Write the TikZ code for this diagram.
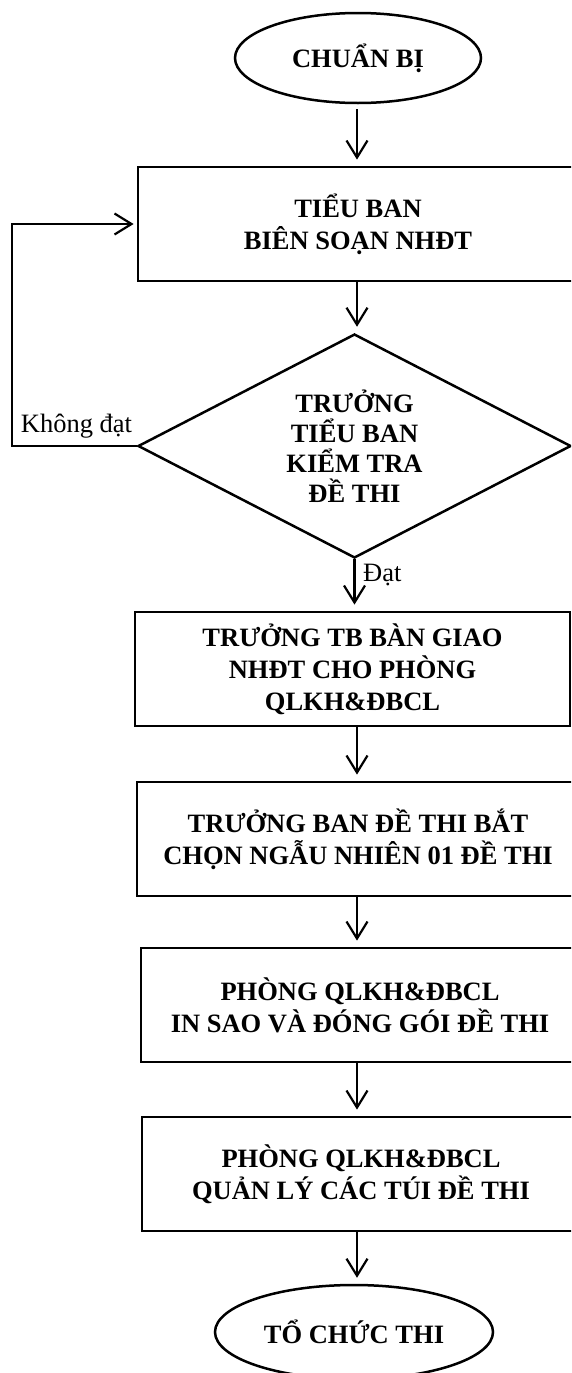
\documentclass[tikz,border=0pt]{standalone}
\usepackage{fontspec}
\setmainfont{Liberation Serif}
\usetikzlibrary{shapes.geometric,arrows.meta,calc}
\begin{document}
\begin{tikzpicture}[x=1pt,y=-1pt,
  txt/.style={font=\fontsize{26.5}{32}\selectfont},
  proc/.style={draw, line width=2.8pt, minimum height=114pt, inner sep=0pt, align=center, font=\bfseries\fontsize{26.5}{32}\selectfont},
  term/.style={draw, ellipse, line width=2.5pt, inner sep=0pt, font=\bfseries\fontsize{26.5}{32}\selectfont},
  dec/.style={draw, diamond, line width=2.5pt, inner sep=0pt, align=center, aspect=1.93, minimum width=433pt, minimum height=224pt, font=\bfseries\fontsize{26.5}{30}\selectfont},
  flow/.style={line width=2.2pt, -{Straight Barb[length=17pt,width=21pt]}, shorten >=6pt}
]
\useasboundingbox (0,0) rectangle (571,1373);
\clip (0,0) rectangle (571,1373);

\node[term, minimum width=246pt, minimum height=90pt] (start) at (358,58) {CHUẨN BỊ};
\node[proc, minimum width=440pt] (b1) at (358,224) {TIỂU BAN\\BIÊN SOẠN NHĐT};
\node[dec] (d) at (354.5,446) {TRƯỞNG\\TIỂU BAN\\KIỂM TRA\\ĐỀ THI};
\node[proc, minimum width=435pt] (b3) at (352.5,669) {TRƯỞNG TB BÀN GIAO\\NHĐT CHO PHÒNG\\QLKH\&ĐBCL};
\node[proc, minimum width=442pt] (b4) at (358,839) {TRƯỞNG BAN ĐỀ THI BẮT\\CHỌN NGẪU NHIÊN 01 ĐỀ THI};
\node[proc, minimum width=438pt] (b5) at (360,1005) {PHÒNG QLKH\&ĐBCL\\IN SAO VÀ ĐÓNG GÓI ĐỀ THI};
\node[proc, minimum width=438pt] (b6) at (361,1174) {PHÒNG QLKH\&ĐBCL\\QUẢN LÝ CÁC TÚI ĐỀ THI};
\node[term, minimum width=278pt, minimum height=94pt] (end) at (354,1332) {TỔ CHỨC THI};

\coordinate (col) at (357,0);
\coordinate (lp) at (12,0);

\draw[flow, shorten <=5pt] (start.south -| col) -- (b1.north -| col);
\draw[flow] (b1.south -| col) -- (d.north -| col);
\draw[flow] (d.south) -- (b3.north -| d.south);
\draw[flow] (b3.south -| col) -- (b4.north -| col);
\draw[flow] (b4.south -| col) -- (b5.north -| col);
\draw[flow] (b5.south -| col) -- (b6.north -| col);
\draw[flow] (b6.south -| col) -- (end.north -| col);

\draw[flow, shorten >=3pt] (d.west) -- (d.west -| lp) -- (b1.west -| lp) -- (b1.west);

\node[txt, anchor=base] (kd) at (76.5,432) {Không đạt};
\node[txt, anchor=west, inner sep=0pt] (dat) at (363,575) {Đạt};
\end{tikzpicture}
\end{document}
